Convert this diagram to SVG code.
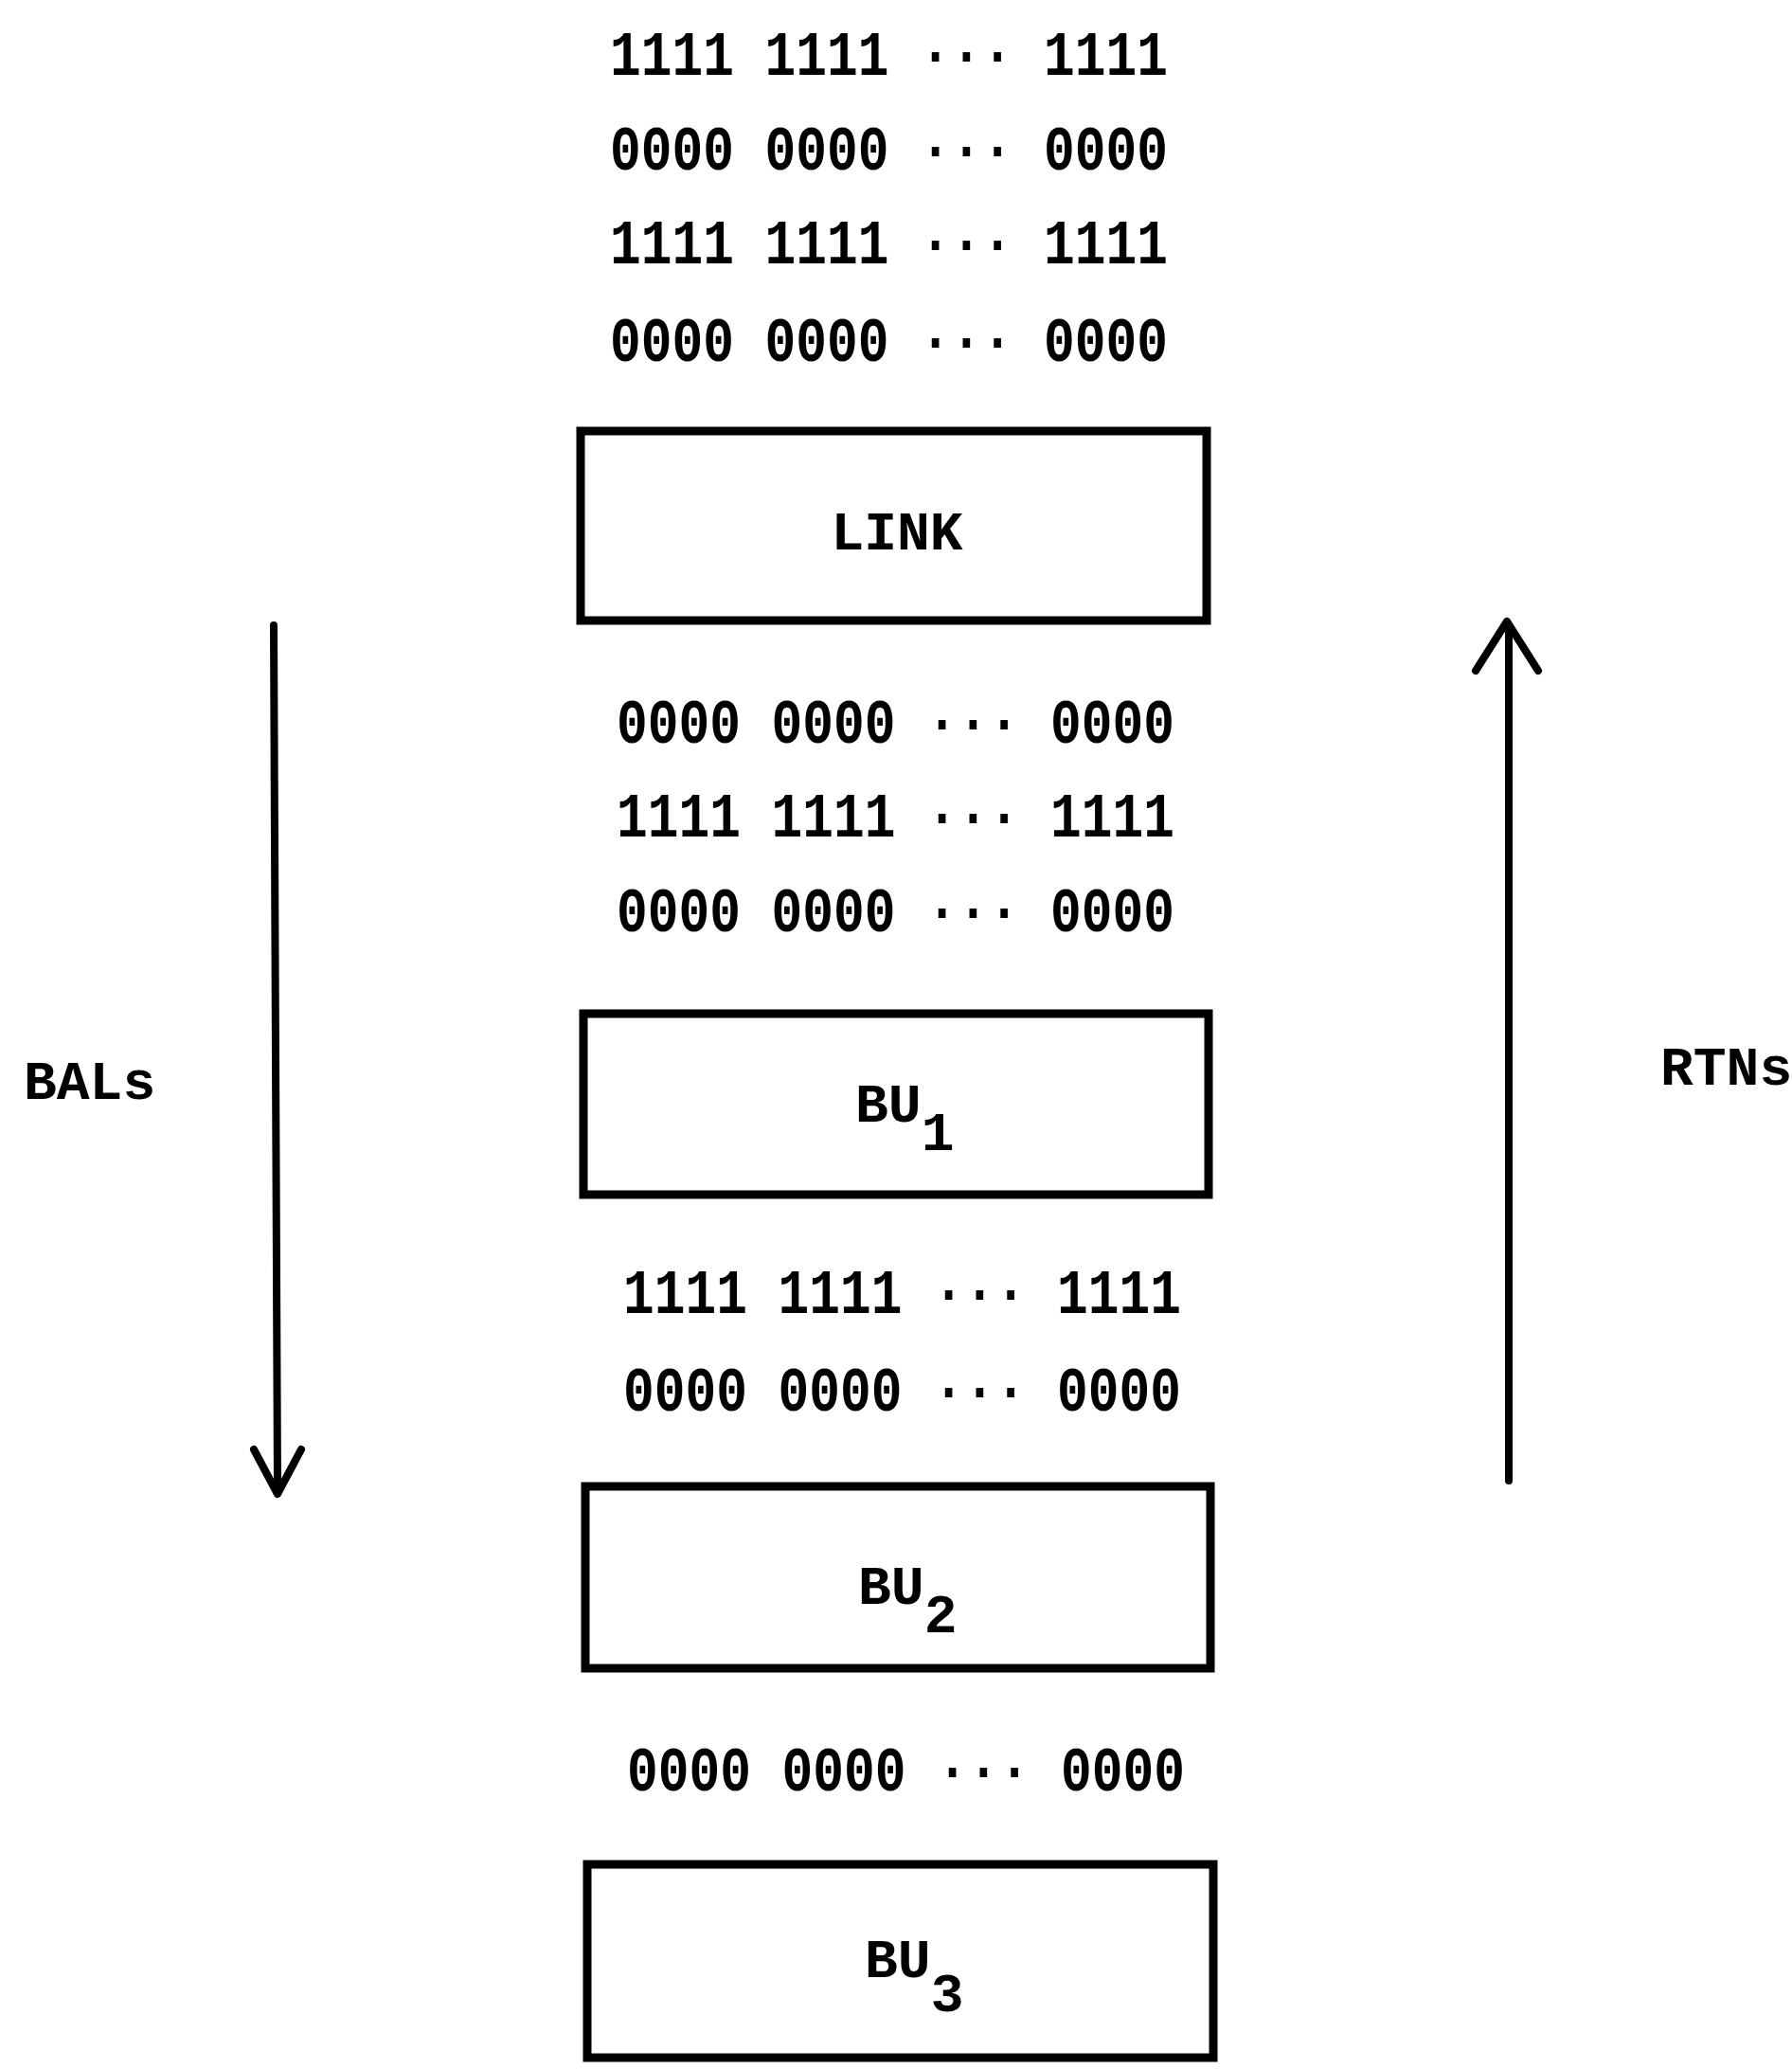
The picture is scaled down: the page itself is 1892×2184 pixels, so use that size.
<svg xmlns="http://www.w3.org/2000/svg" width="1892" height="2184" viewBox="0 0 1892 2184">
<style>
.t{font-family:"Liberation Mono","DejaVu Sans Mono",monospace;font-size:58px;font-weight:bold;fill:#000}
.d{font-family:"Liberation Mono","DejaVu Sans Mono",monospace;font-size:66px;font-weight:bold;fill:#000}
.box{fill:#fff;stroke:#000;stroke-width:9}
.ln{fill:none;stroke:#000;stroke-width:8;stroke-linecap:round;stroke-linejoin:round}
</style>
<rect width="1892" height="2184" fill="#fff"/>
<g id="bits">
<text class="d" x="644" y="79" textLength="589" lengthAdjust="spacingAndGlyphs">1111 1111 ··· 1111</text>
<text class="d" x="644" y="179" textLength="589" lengthAdjust="spacingAndGlyphs">0000 0000 ··· 0000</text>
<text class="d" x="644" y="278" textLength="589" lengthAdjust="spacingAndGlyphs">1111 1111 ··· 1111</text>
<text class="d" x="644" y="381" textLength="589" lengthAdjust="spacingAndGlyphs">0000 0000 ··· 0000</text>
<text class="d" x="651" y="784" textLength="589" lengthAdjust="spacingAndGlyphs">0000 0000 ··· 0000</text>
<text class="d" x="651" y="883" textLength="589" lengthAdjust="spacingAndGlyphs">1111 1111 ··· 1111</text>
<text class="d" x="651" y="983" textLength="589" lengthAdjust="spacingAndGlyphs">0000 0000 ··· 0000</text>
<text class="d" x="658" y="1386" textLength="589" lengthAdjust="spacingAndGlyphs">1111 1111 ··· 1111</text>
<text class="d" x="658" y="1489" textLength="589" lengthAdjust="spacingAndGlyphs">0000 0000 ··· 0000</text>
<text class="d" x="662" y="1890" textLength="589" lengthAdjust="spacingAndGlyphs">0000 0000 ··· 0000</text>
</g>
<g id="link">
<rect class="box" x="613" y="455" width="661" height="200"/>
<text class="t" x="947" y="580" text-anchor="middle">LINK</text>
</g>
<g id="bu1">
<rect class="box" x="616" y="1070" width="660" height="191"/>
<text class="t" x="903" y="1184">BU<tspan dy="30">1</tspan></text>
</g>
<g id="bu2">
<rect class="box" x="618" y="1569" width="660" height="192"/>
<text class="t" x="906" y="1693">BU<tspan dy="30">2</tspan></text>
</g>
<g id="bu3">
<rect class="box" x="620" y="1968" width="661" height="204"/>
<text class="t" x="913" y="2087">BU<tspan dy="36">3</tspan></text>
</g>
<g id="bals">
<text class="t" x="25" y="1160">BALs</text>
</g>
<g id="rtns">
<text class="t" x="1753" y="1145">RTNs</text>
</g>
<g id="connectors">
<path class="ln" d="M289 660 L293 1572"/>
<path class="ln" d="M268 1530 L293 1577 L318 1530"/>
<path class="ln" d="M1593 1563 L1593 662"/>
<path class="ln" d="M1558 708 L1591 656 L1624 708"/>
</g>
</svg>
